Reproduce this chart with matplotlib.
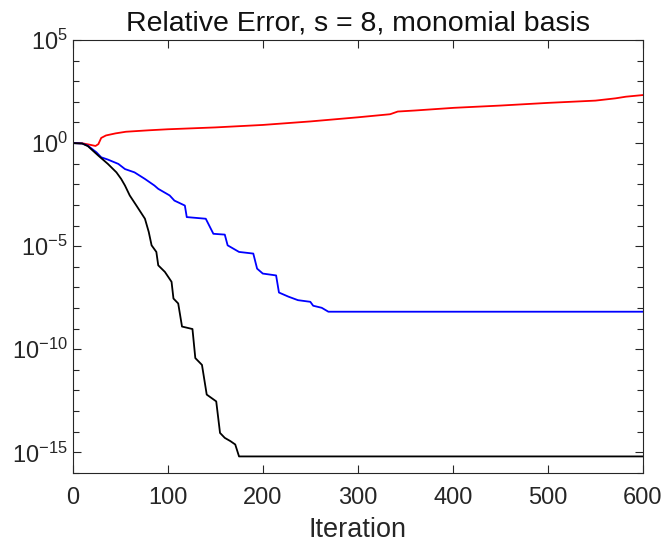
import matplotlib
matplotlib.use("Agg")
import matplotlib.pyplot as plt
import numpy as np
from matplotlib.ticker import FixedLocator, LogFormatterSciNotation, NullFormatter

plt.rcParams['font.family'] = ['Liberation Sans', 'DejaVu Sans']
plt.rcParams['mathtext.fontset'] = 'custom'
plt.rcParams['mathtext.rm'] = 'Liberation Sans'
plt.rcParams['mathtext.default'] = 'regular'

# iteration breakpoints and log10(relative error)
red_iter = [0, 10, 18, 24, 27, 30, 35, 45, 56, 80, 100, 150, 200, 250, 300,
            334, 342, 360, 401, 450, 500, 550, 571, 582, 600]
red_exp = [0, -0.01, -0.08, -0.14, -0.05, 0.25, 0.37, 0.47, 0.55, 0.62, 0.67,
           0.76, 0.88, 1.05, 1.25, 1.40, 1.53, 1.58, 1.71, 1.82, 1.95, 2.06,
           2.17, 2.25, 2.33]

blue_iter = [0, 10, 16, 25, 30, 37, 48, 55, 65, 76, 86, 90, 102, 107, 118, 120,
             140, 148, 160, 163, 175, 190, 194, 200, 214, 217, 227, 237, 250,
             253, 262, 269, 600]
blue_exp = [0, -0.02, -0.13, -0.45, -0.69, -0.80, -1.01, -1.26, -1.42, -1.74,
            -2.06, -2.22, -2.54, -2.79, -3.03, -3.59, -3.67, -4.40, -4.44, -4.96,
            -5.28, -5.36, -6.09, -6.33, -6.42, -7.25, -7.45, -7.62, -7.70, -7.89,
            -7.99, -8.18, -8.18]

black_iter = [0, 10, 16, 27, 37, 46, 51, 55, 60, 67, 76, 80, 83, 88, 90, 97, 104,
              106, 111, 115, 126, 129, 136, 141, 151, 155, 160, 166, 171, 175, 600]
black_exp = [0, -0.02, -0.15, -0.61, -1.01, -1.42, -1.74, -2.06, -2.54, -3.03,
             -3.67, -4.31, -4.96, -5.28, -5.93, -6.25, -6.73, -7.54, -7.78, -8.90,
             -9.02, -10.43, -10.76, -12.20, -12.53, -14.06, -14.30, -14.46, -14.62,
             -15.20, -15.20]

x_ticks = [0, 100, 200, 300, 400, 500, 600]
y_major = [1e-15, 1e-10, 1e-5, 1e0, 1e5]

fig = plt.figure(figsize=(6.67, 5.48), dpi=100)
ax = fig.add_axes([0.109, 0.137, 0.855, 0.790])

ax.plot(red_iter, 10.0 ** np.array(red_exp), color='#ff0000', lw=1.3)
ax.plot(blue_iter, 10.0 ** np.array(blue_exp), color='#0000ff', lw=1.3)
ax.plot(black_iter, 10.0 ** np.array(black_exp), color='k', lw=1.3)

ax.set_yscale('log')
ax.set_xlim(0, 600)
ax.set_ylim(1e-16, 1e5)
ax.set_xticks(x_ticks)
ax.yaxis.set_major_locator(FixedLocator(y_major))
ax.yaxis.set_major_formatter(LogFormatterSciNotation())
ax.yaxis.set_minor_locator(FixedLocator([10.0 ** k for k in range(-16, 6)]))
ax.yaxis.set_minor_formatter(NullFormatter())

edge = '#262626'
for spine in ax.spines.values():
    spine.set_color(edge)
    spine.set_linewidth(0.8)
ax.tick_params(which='both', direction='in', top=True, right=True, color=edge,
               labelsize=17, labelcolor='#262626', width=0.8)
ax.tick_params(which='major', length=6)
ax.tick_params(which='minor', length=4)
ax.tick_params(axis='x', pad=10)

ax.set_xlabel('Iteration', fontsize=19.5, color='#262626', labelpad=6)
ax.set_title('Relative Error, s = 8, monomial basis', fontsize=20.5,
             color='#111111', pad=7)

plt.savefig('out.png', dpi=100)
